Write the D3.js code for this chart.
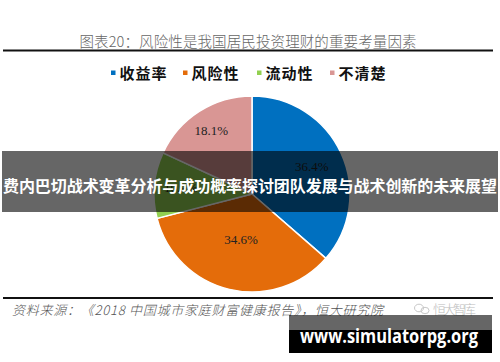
<!DOCTYPE html>
<html>
<head>
<meta charset="utf-8">
<script src="https://cdn.jsdelivr.net/npm/d3@7"></script>
<style>
  body { margin: 0; background: #fff; }
  svg { display: block; }
</style>
</head>
<body>
<script>
// data
const categories = ["收益率", "风险性", "流动性", "不清楚"];
const shares = [36.4, 34.6, 10.9, 18.1];
const sliceColors = ["#0070C0", "#E46C0A", "#92D050", "#D99694"];
const titleText = "图表20：风险性是我国居民投资理财的重要考量因素";
const sourceText = "资料来源：《2018 中国城市家庭财富健康报告》，恒大研究院";
const bannerText = "费内巴切战术变革分析与成功概率探讨团队发展与战术创新的未来展望";
const siteText = "www.simulatorpg.org";

const W = 500, H = 362;
const cx = 252, cy = 194, R = 98;
// label distance from centre per slice (excel "best fit" placement)
const labelK = [0.67, 0.48, 0.73, 0.77];

const svg = d3.select("body").append("svg")
  .attr("width", W).attr("height", H);

const cjk = "'Noto Sans CJK SC', sans-serif";

// title + rule
svg.append("text")
  .attr("x", 248).attr("y", 47)
  .attr("text-anchor", "middle")
  .attr("font-family", cjk)
  .attr("font-size", 14.5)
  .attr("font-weight", 300)
  .attr("fill", "#666")
  .attr("textLength", 337)
  .text(titleText);

svg.append("line")
  .attr("x1", 3).attr("x2", 493).attr("y1", 50.5).attr("y2", 50.5)
  .attr("stroke", "#111").attr("stroke-width", 1.8);

// legend
const legendX = [111, 183, 257, 330];
const legend = svg.append("g").selectAll("g")
  .data(categories)
  .join("g")
  .attr("transform", (d, i) => `translate(${legendX[i]},73)`);
legend.append("rect")
  .attr("x", 0).attr("y", -2.5).attr("width", 4.5).attr("height", 4.5)
  .attr("fill", (d, i) => sliceColors[i]);
legend.append("text")
  .attr("x", 8.5).attr("y", 5.5)
  .attr("font-family", cjk)
  .attr("font-size", 15)
  .attr("font-weight", 700)
  .attr("fill", "#111")
  .attr("textLength", 47)
  .text(d => d);

// pie
const pie = d3.pie().sort(null).value(d => d);
const arcs = pie(shares);
const arc = d3.arc().innerRadius(0).outerRadius(R);

const g = svg.append("g").attr("transform", `translate(${cx},${cy})`);
g.selectAll("path")
  .data(arcs)
  .join("path")
  .attr("d", arc)
  .attr("fill", (d, i) => sliceColors[i])
  .attr("stroke", "#fff")
  .attr("stroke-width", 1.5);

g.selectAll("text")
  .data(arcs)
  .join("text")
  .attr("transform", (d, i) => {
    const a = (d.startAngle + d.endAngle) / 2;
    const r = R * labelK[i];
    return `translate(${Math.sin(a) * r},${-Math.cos(a) * r})`;
  })
  .attr("text-anchor", "middle")
  .attr("dy", "0.35em")
  .attr("font-family", "'Liberation Serif', serif")
  .attr("font-size", 13)
  .attr("fill", "#222")
  .text(d => d.value.toFixed(1) + "%");

// bottom rule + source
svg.append("line")
  .attr("x1", 3).attr("x2", 493).attr("y1", 298).attr("y2", 298)
  .attr("stroke", "#111").attr("stroke-width", 2);

svg.append("text")
  .attr("x", 12).attr("y", 315)
  .attr("font-family", cjk)
  .attr("font-size", 13)
  .attr("font-style", "italic")
  .attr("font-weight", 300)
  .attr("fill", "#555")
  .attr("textLength", 371)
  .text(sourceText);

// faint watermark
const wm = svg.append("g").attr("transform", "translate(415,309)")
  .attr("fill", "none").attr("stroke", "#c8c8c8").attr("stroke-width", 1);
wm.append("ellipse").attr("cx", 4).attr("cy", -1).attr("rx", 4.5).attr("ry", 3.8);
wm.append("ellipse").attr("cx", 10).attr("cy", 1.5).attr("rx", 4).attr("ry", 3.2);
svg.append("text")
  .attr("x", 433).attr("y", 314)
  .attr("font-family", cjk)
  .attr("font-size", 13)
  .attr("font-weight", 300)
  .attr("fill", "#bdbdbd")
  .attr("textLength", 43)
  .text("恒大智库");

// site box
svg.append("rect")
  .attr("x", 289).attr("y", 315).attr("width", 203).attr("height", 15)
  .attr("fill", "rgba(0,0,0,0.6)");
svg.append("rect")
  .attr("x", 289).attr("y", 330).attr("width", 203).attr("height", 23)
  .attr("fill", "#000");
svg.append("text")
  .attr("x", 300).attr("y", 343)
  .attr("font-family", "'Open Sans', 'DejaVu Sans', sans-serif")
  .attr("font-size", 19)
  .attr("font-weight", 700)
  .attr("fill", "#fff")
  .attr("textLength", 178)
  .attr("lengthAdjust", "spacingAndGlyphs")
  .text(siteText);

// overlay banner
svg.append("rect")
  .attr("x", 2).attr("y", 151).attr("width", 496).attr("height", 61)
  .attr("fill", "rgba(0,0,0,0.6)");
svg.append("text")
  .attr("x", 250).attr("y", 192)
  .attr("text-anchor", "middle")
  .attr("font-family", cjk)
  .attr("font-size", 16)
  .attr("font-weight", 700)
  .attr("fill", "#fff")
  .attr("textLength", 494)
  .text(bannerText);
</script>
</body>
</html>
